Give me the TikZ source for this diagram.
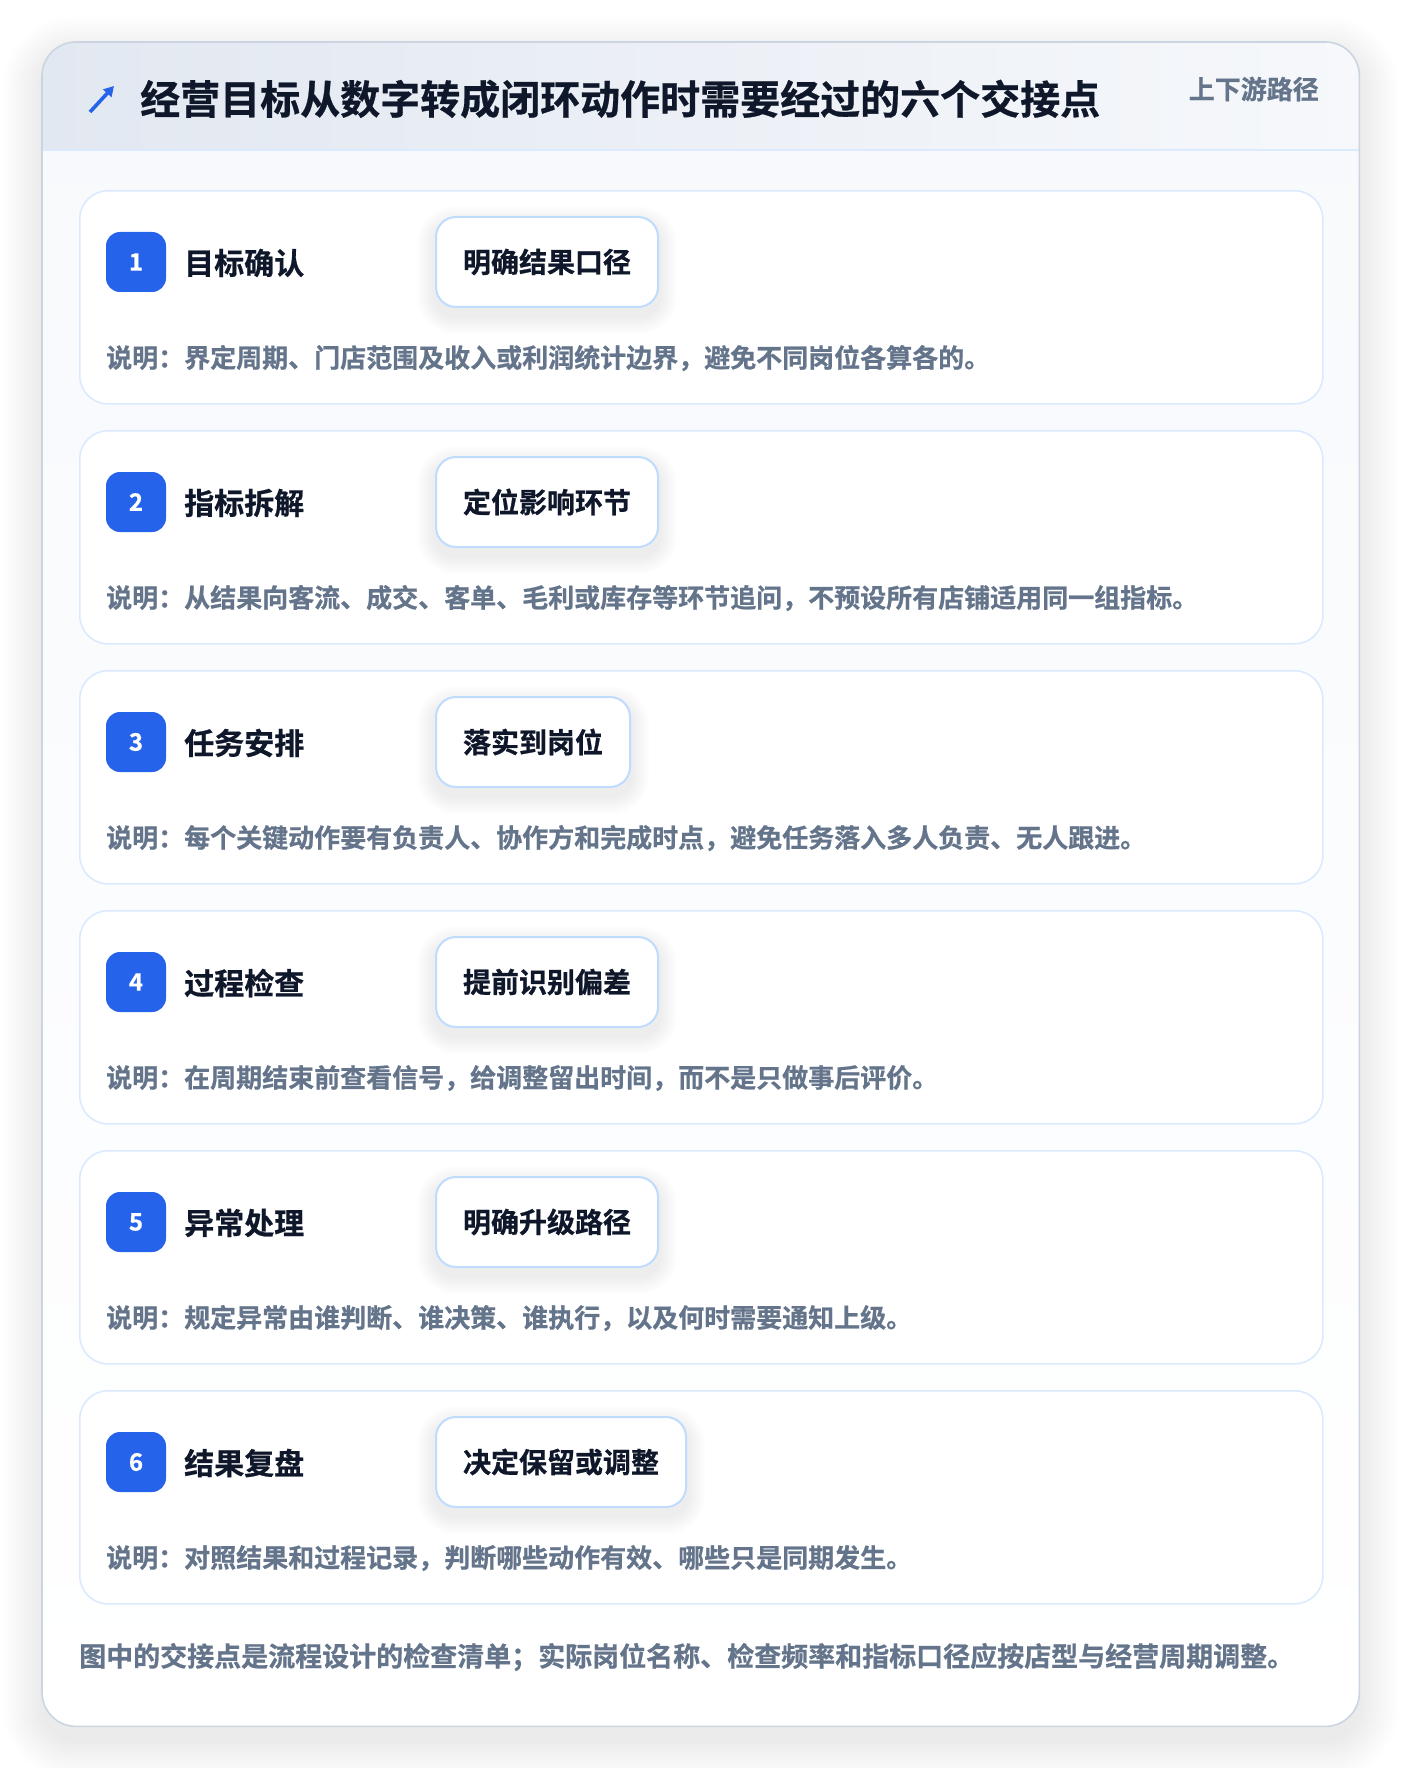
\documentclass[tikz,border=0pt]{standalone}
\usepackage{fontspec}
\setmainfont{Noto Sans CJK SC}[BoldFont={Noto Sans CJK SC Bold}, BoldFeatures={FakeBold=0.7}]
\usetikzlibrary{arrows.meta}
\definecolor{ink}{HTML}{0F172A}
\definecolor{muted}{HTML}{64748B}
\definecolor{brand}{HTML}{2563EB}
\definecolor{cardline}{HTML}{CBD5E1}
\definecolor{stepline}{HTML}{DBEAFE}
\definecolor{pillline}{HTML}{BFDBFE}
\definecolor{headl}{HTML}{E2E8F1}
\definecolor{headr}{HTML}{F6F8FB}
\definecolor{panel}{HTML}{F7F9FC}
\pgfdeclarelayer{outer}
\pgfdeclarelayer{cards}
\pgfdeclarelayer{pillshadow}
\pgfsetlayers{outer,cards,pillshadow,main}
\tikzset{
  outercard/.style={minimum width=1317pt, minimum height=1684pt, rounded corners=34pt, inner sep=0pt,
    top color=panel, bottom color=white},
  stepcard/.style={draw=stepline, line width=1.6pt, fill=white, rounded corners=28pt,
    minimum width=1243pt, minimum height=213pt, inner sep=0pt},
  badge/.style={fill=brand, text=white, rounded corners=14pt, minimum size=60pt, inner sep=0pt,
    font=\fontsize{24}{28}\selectfont\bfseries},
  steptitle/.style={text=ink, inner sep=0pt, font=\fontsize{30}{36}\selectfont\bfseries},
  pill/.style={draw=pillline, line width=2pt, fill=white, rounded corners=20pt, inner xsep=27pt,
    inner ysep=0pt, minimum height=90pt, text=ink, font=\fontsize{28}{34}\selectfont\bfseries},
  softshade/.style={fill=black, opacity=#1},
  desc/.style={text=muted, inner sep=0pt, font=\fontsize{26}{32}\selectfont\bfseries},
  maintitle/.style={text=ink, inner sep=0pt, font=\fontsize{40}{48}\selectfont\bfseries},
  tagtext/.style={text=muted, inner sep=0pt, font=\fontsize{26}{30}\selectfont\bfseries},
  foottext/.style={text=muted, inner sep=0pt, font=\fontsize{27}{32}\selectfont\bfseries},
}
\begin{document}
\begin{tikzpicture}[x=1pt,y=-1pt]
\path[use as bounding box] (0,0) rectangle (1400,1768);
% outer card
\begin{pgfonlayer}{outer}
  \fill[white] (0,0) rectangle (1400,1768);
  \foreach \k in {2,4,...,40}{
    \fill[softshade=0.0045, rounded corners=34pt+\k pt] (42-\k,56-\k) rectangle (1359+\k,1740+\k);
  }
  \node[outercard, anchor=north west] (card) at (42,42) {};
  \begin{scope}
    \clip[rounded corners=34pt] (card.north west) rectangle (card.south east);
    \fill[left color=headl, right color=headr] (42,42) rectangle (1359,150);
  \end{scope}
  \coordinate (hl) at (42,150);
  \coordinate (hr) at (1359,150);
  \draw[stepline, line width=2pt] (hl) -- (hr);
  \draw[cardline, line width=1.6pt, rounded corners=34pt] (card.north west) rectangle (card.south east);
\end{pgfonlayer}
% header
\coordinate (arrA) at (90,112);
\coordinate (arrB) at (114,86);
\draw[brand, line width=3.6pt, -{Triangle[length=10pt,width=11pt]}] (arrA) -- (arrB);
\node[maintitle, anchor=west] (title) at (140,99) {经营目标从数字转成闭环动作时需要经过的六个交接点};
\node[tagtext, anchor=east] (tag) at (1319,89) {上下游路径};
% steps
\foreach \i/\t/\p/\d in {
  1/目标确认/明确结果口径/{说明：界定周期、门店范围及收入或利润统计边界，避免不同岗位各算各的。},
  2/指标拆解/定位影响环节/{说明：从结果向客流、成交、客单、毛利或库存等环节追问，不预设所有店铺适用同一组指标。},
  3/任务安排/落实到岗位/{说明：每个关键动作要有负责人、协作方和完成时点，避免任务落入多人负责、无人跟进。},
  4/过程检查/提前识别偏差/{说明：在周期结束前查看信号，给调整留出时间，而不是只做事后评价。},
  5/异常处理/明确升级路径/{说明：规定异常由谁判断、谁决策、谁执行，以及何时需要通知上级。},
  6/结果复盘/决定保留或调整/{说明：对照结果和过程记录，判断哪些动作有效、哪些只是同期发生。}}{
  \pgfmathsetmacro\ytop{190+240*(\i-1)}
  \begin{pgfonlayer}{cards}
    \node[stepcard, anchor=north west] (step\i) at (79,\ytop) {};
  \end{pgfonlayer}
  \node[badge] (badge\i) at (136,\ytop+72) {\i};
  \node[steptitle, anchor=west] (stitle\i) at (184,\ytop+73) {\t};
  \node[pill, anchor=west] (pill\i) at (435,\ytop+72) {\p};
  \begin{pgfonlayer}{pillshadow}
    \foreach \k in {2,4,...,18}{
      \fill[softshade=0.008, rounded corners=20pt+\k pt]
        ([xshift=-\k pt, yshift=-8pt-\k pt]pill\i.south west) rectangle ([xshift=\k pt, yshift=-8pt+\k pt]pill\i.north east);
    }
  \end{pgfonlayer}
  \node[desc, anchor=west] (desc\i) at (106,\ytop+168) {\d};
}
\node[foottext, anchor=west] (foot) at (79,1657) {图中的交接点是流程设计的检查清单；实际岗位名称、检查频率和指标口径应按店型与经营周期调整。};
\end{tikzpicture}
\end{document}
